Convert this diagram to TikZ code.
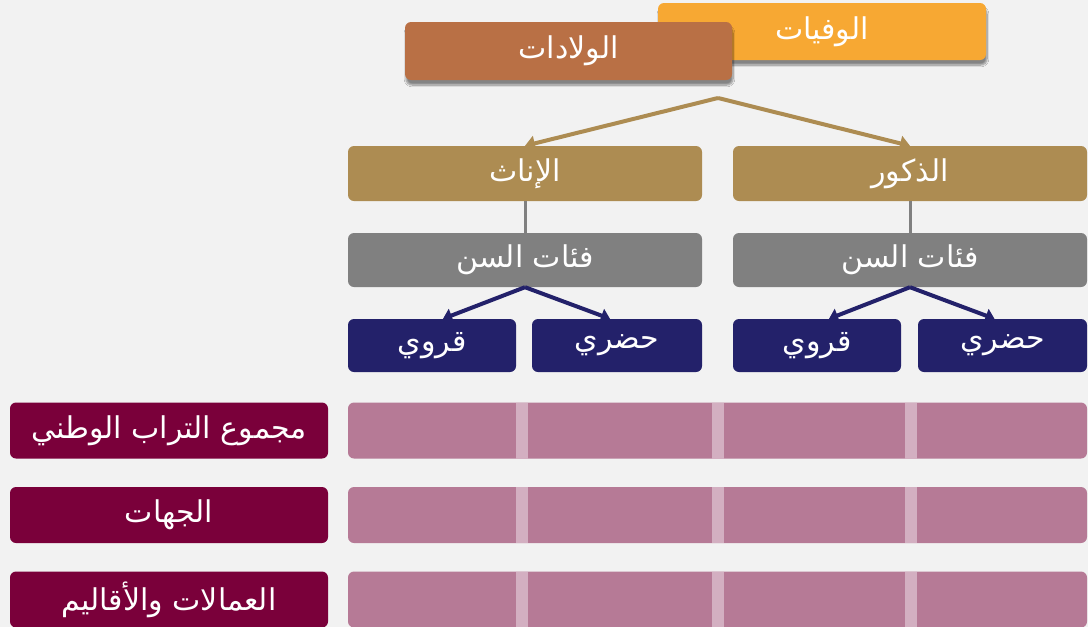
\documentclass[tikz,border=0pt]{standalone}
\usepackage{fontspec}
\usetikzlibrary{arrows.meta,shadows.blur,calc}
\TeXXeTstate=1
\newfontfamily\arabicfont[Script=Arabic]{DejaVu Sans}
\definecolor{bgc}{HTML}{F2F2F2}
\definecolor{orangec}{HTML}{F7A833}
\definecolor{brownc}{HTML}{B97045}
\definecolor{goldc}{HTML}{AD8C52}
\definecolor{grayc}{HTML}{808080}
\definecolor{navyc}{HTML}{23216A}
\definecolor{maroonc}{HTML}{7A003A}
\definecolor{pinkc}{HTML}{B67A96}
\definecolor{sepc}{HTML}{D3AFC1}
\tikzset{
  box/.style={rounded corners=6pt, inner sep=0pt, text=white, font=\arabicfont\fontsize{30}{34}\selectfont},
  topbox/.style={box, blur shadow={shadow blur steps=10, shadow blur extra rounding=3pt, shadow xshift=1pt, shadow yshift=-5pt, shadow opacity=45}},
  goldarrow/.style={draw=goldc, line width=4pt, -{Triangle[width=15pt,length=10pt]}},
  navyarrow/.style={draw=navyc, line width=4pt, -{Triangle[width=14pt,length=9pt]}},
  grayline/.style={draw=grayc, line width=3pt},
}
\begin{document}
\begin{tikzpicture}[x=1pt,y=-1pt]
\fill[bgc] (0,0) rectangle (1088,627);
\useasboundingbox (0,0) rectangle (1088,627);
% top boxes
\node[topbox, fill=orangec, minimum width=328pt, minimum height=57pt] (wafayat) at (822,31.5) {\beginR الوفيات\endR};
\node[topbox, fill=brownc, minimum width=327pt, minimum height=58pt] (wiladat) at (568.5,51) {\beginR الولادات\endR};
\coordinate (apex) at (718,98);
% gender
\node[box, fill=goldc, minimum width=354pt, minimum height=55pt] (inath) at (525,173.5) {\beginR الإناث\endR};
\node[box, fill=goldc, minimum width=354pt, minimum height=55pt] (dhukur) at (910,173.5) {\beginR الذكور\endR};
\draw[goldarrow] (apex) -- (inath.north);
\draw[goldarrow] (apex) -- (dhukur.north);
% age
\node[box, fill=grayc, minimum width=354pt, minimum height=54pt] (age1) at (525,260) {\beginR فئات السن\endR};
\node[box, fill=grayc, minimum width=354pt, minimum height=54pt] (age2) at (910,260) {\beginR فئات السن\endR};
\draw[grayline] (inath.south) -- (age1.north);
\draw[grayline] (dhukur.south) -- (age2.north);
% milieu
\node[box, fill=navyc, minimum width=168pt, minimum height=53pt] (q1) at (432,345.5) {\beginR قروي\endR};
\node[box, fill=navyc, minimum width=170pt, minimum height=53pt] (h1) at (617,345.5) {\beginR حضري\endR};
\node[box, fill=navyc, minimum width=168pt, minimum height=53pt] (q2) at (817,345.5) {\beginR قروي\endR};
\node[box, fill=navyc, minimum width=169pt, minimum height=53pt] (h2) at (1002.5,345.5) {\beginR حضري\endR};
\draw[navyarrow] (age1.south) -- ([xshift=11pt]q1.north);
\draw[navyarrow] (age1.south) -- ([xshift=-7pt]h1.north);
\draw[navyarrow] (age2.south) -- ([xshift=12pt]q2.north);
\draw[navyarrow] (age2.south) -- ([xshift=-8pt]h2.north);
% rows
\foreach \y/\name/\lab in {430.5/r1/{مجموع التراب الوطني}, 515/r2/{الجهات}, 599.5/r3/{العمالات والأقاليم}}{
  \node[box, fill=maroonc, minimum width=318pt, minimum height=56pt] (\name l) at (169,\y) {\beginR \lab\endR};
  \node[box, fill=pinkc, minimum width=739pt, minimum height=56pt] (\name p) at (717.5,\y) {};
  \foreach \sx in {516,712,905}{
    \fill[sepc] (\sx,\y-28) rectangle (\sx+11.5,\y+28);
  }
}
\end{tikzpicture}
\end{document}
